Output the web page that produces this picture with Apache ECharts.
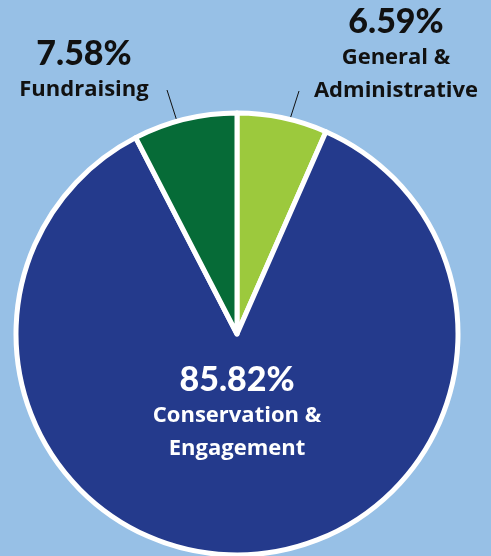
<!DOCTYPE html>
<html>
<head>
<meta charset="utf-8">
<script src="https://cdn.jsdelivr.net/npm/echarts@6/dist/echarts.min.js"></script>
<style>
html,body{margin:0;padding:0;background:#97c0e6;}
#c{width:491px;height:556px;}
</style>
</head>
<body>
<div id="c"></div>
<script>
const categories = ['General &\nAdministrative', 'Conservation &\nEngagement', 'Fundraising'];
const values = [6.59, 85.82, 7.58];
const colors = ['#9cc93d', '#243a8c', '#066b37'];

const labelPos = [
  {x: 396, y: 55},
  {x: 237, y: 413},
  {x: 84, y: 71}
];
const linePts = [
  [[284, 140], [291, 116], [299, 91]],
  null,
  [[183, 140], [175, 115], [167, 90]]
];

const chart = echarts.init(document.getElementById('c'));
chart.setOption({
  backgroundColor: '#97c0e6',
  animation: false,
  series: [{
    type: 'pie',
    center: [237, 334],
    radius: [0, 221],
    startAngle: 90,
    clockwise: true,
    avoidLabelOverlap: false,
    itemStyle: {borderColor: '#ffffff', borderWidth: 5},
    data: categories.map((n, i) => ({
      name: n, value: values[i],
      itemStyle: {color: colors[i]},
      label: {color: i === 1 ? '#ffffff' : '#111111'},
      labelLine: {show: i !== 1}
    })),
    label: {
      show: true,
      position: 'outside',
      formatter: p => '{p|' + p.value.toFixed(2) + '%}\n{n|' + p.name + '}',
      fontFamily: 'Lato',
      fontWeight: 'bold',
      align: 'center',
      rich: {
        p: {fontSize: 34, fontWeight: 900, fontFamily: 'Lato', lineHeight: 38, align: 'center'},
        n: {fontSize: 22, fontWeight: 'bold', fontFamily: 'Open Sans', lineHeight: 33, align: 'center'}
      }
    },
    labelLine: {show: true, lineStyle: {color: '#111111', width: 1}},
    labelLayout: function (params) {
      const i = params.dataIndex;
      const o = {x: labelPos[i].x, y: labelPos[i].y, align: 'center', verticalAlign: 'middle'};
      if (linePts[i]) o.labelLinePoints = linePts[i];
      return o;
    }
  }]
});
</script>
</body>
</html>
